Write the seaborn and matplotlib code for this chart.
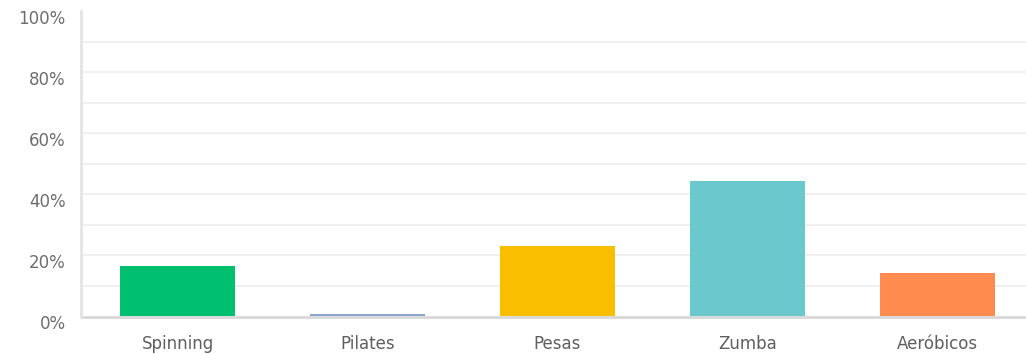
import matplotlib
matplotlib.use("Agg")
import matplotlib.pyplot as plt
import matplotlib.transforms as mtransforms
from matplotlib.ticker import MultipleLocator, FuncFormatter
import seaborn as sns
import pandas as pd

# Share of responses per class type (%)
activities = ["Spinning", "Pilates", "Pesas", "Zumba", "Aeróbicos"]
shares = [16.4, 0.8, 23.0, 44.3, 14.1]
bar_colors = ["#00bf6f", "#8ea5d0", "#f9be00", "#6bc8cd", "#ff8b4f"]

df = pd.DataFrame({"actividad": activities, "porcentaje": shares})

sns.set_theme(style="white")
plt.rcParams["font.family"] = ["DejaVu Sans"]

fig = plt.figure(figsize=(10.26, 3.54), dpi=100)
ax = fig.add_axes([81 / 1026, 37 / 354, 945 / 1026, 306 / 354])

sns.barplot(data=df, x="actividad", y="porcentaje", hue="actividad",
            palette=bar_colors, width=0.605, saturation=1, legend=False,
            linewidth=0, ax=ax, zorder=3)

ax.set_xlim(-0.508, 4.466)
ax.set_ylim(-0.3, 100)
ax.set_xlabel("")
ax.set_ylabel("")

ax.yaxis.set_major_locator(MultipleLocator(20))
ax.yaxis.set_major_formatter(FuncFormatter(lambda v, _: f"{int(v)}%"))

# light horizontal grid every 10%, skipping the axis ends
for v in range(10, 100, 10):
    ax.axhline(v, color="#f0f0f0", lw=1.5, zorder=1)

for s in ["top", "right"]:
    ax.spines[s].set_visible(False)
ax.spines["left"].set_color("#e4e4e4")
ax.spines["left"].set_linewidth(2)
ax.spines["left"].set_bounds(0, 100)
ax.spines["bottom"].set_visible(False)
# baseline drawn beneath the bars
ax.axhline(-0.3, color="#d8d8d8", lw=2, zorder=2, clip_on=False)

ax.tick_params(axis="y", which="both", length=0, pad=11,
               labelsize=12, labelcolor="#6d6d6d")
ax.tick_params(axis="x", length=0, pad=13, labelsize=12,
               labelcolor="#5f5f5f")

# y labels sit slightly below their gridline
offset = mtransforms.ScaledTranslation(0, -6 / 100, fig.dpi_scale_trans)
for lab in ax.get_yticklabels():
    lab.set_transform(lab.get_transform() + offset)

fig.savefig("out.png", dpi=100)
